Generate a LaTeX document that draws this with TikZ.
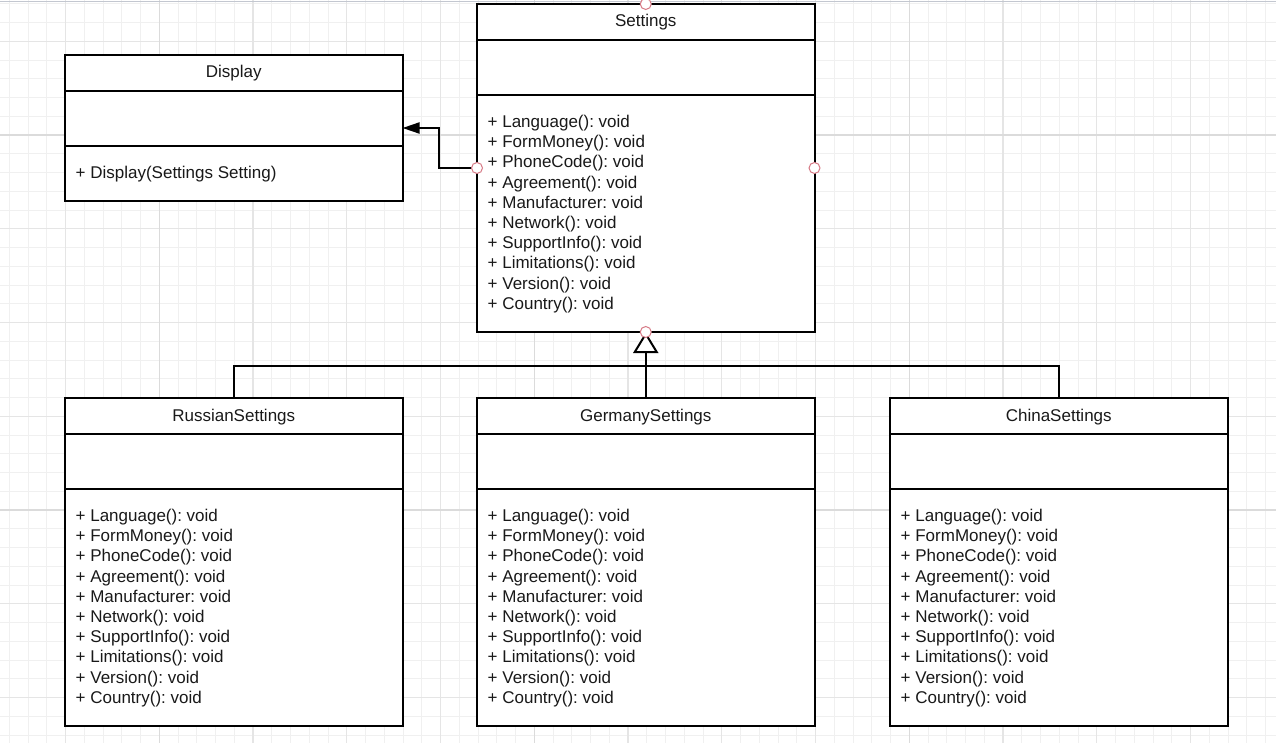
\documentclass[tikz,border=0pt]{standalone}
\usepackage{fontspec}
\setmainfont{Liberation Sans}
\usetikzlibrary{arrows.meta}
\definecolor{pointred}{HTML}{D77A86}
\definecolor{canvasedge}{HTML}{C3C7D0}
\frenchspacing
\newcommand{\methodlist}{Language(): void, FormMoney(): void, PhoneCode(): void, Agreement(): void, Manufacturer: void, Network(): void, SupportInfo(): void, Limitations(): void, Version(): void, Country(): void}

\begin{document}
\begin{tikzpicture}
		[
			x=1pt, y=-1pt,
			% Make a style for the grid lines.
			gridminor/.style={line width=0.8pt, black!6},
			gridmid/.style={line width=1.2pt, black!10},
			gridmajor/.style={line width=1.6pt, black!14},
			% And one for a class box.
			classbox/.style={draw, line width=2pt, fill=white, minimum width=337.5pt, inner sep=0pt, outer sep=0pt, anchor=north west},
			% And one for the texts in a box.
			classtext/.style={inner sep=0pt, black!90, font=\fontsize{17}{20.2}\selectfont},
			% And one for a connection point.
			cpoint/.style={circle, draw=pointred, fill=white, line width=1pt, minimum size=11pt, inner sep=0pt}
		]
			\useasboundingbox (0,0) rectangle (1276,743);
			\fill[white] (0,0) rectangle (1276,743);
			
			% Draw the grid.
			\foreach \k in {0,...,67} \draw[gridminor] ({9.3+18.75*\k},0) -- ++(0,743);
			\foreach \k in {0,...,39} \draw[gridminor] (0,{3.75+18.75*\k}) -- ++(1276,0);
			\foreach \k in {0,...,12} \draw[gridmid] ({65.55+93.75*\k},0) -- ++(0,743);
			\foreach \k in {0,...,7} \draw[gridmid] (0,{41.25+93.75*\k}) -- ++(1276,0);
			\foreach \k in {0,1,2} \draw[gridmajor] ({159.3+375*\k},0) -- ++(0,743);
			\foreach \k in {0,1} \draw[gridmajor] (0,{135+375*\k}) -- ++(1276,0);
			\draw[canvasedge, line width=1.5pt] (0,1.5) -- (1276,1.5);
			
			% Draw the settings classes.
			\foreach \name/\title/\x/\y in {settings/Settings/477/4, russian/RussianSettings/65/398, germany/GermanySettings/477/398, china/ChinaSettings/890/398}
			{
				\node[classbox, minimum height=328pt] (\name) at (\x,\y) {};
				\node[classtext, anchor=base] (\name-title) at (\x+168.75,\y+23) {\title};
				\draw[line width=2pt] ([yshift=-36pt]\name.north west) -- ([yshift=-36pt]\name.north east);
				\draw[line width=2pt] ([yshift=-91pt]\name.north west) -- ([yshift=-91pt]\name.north east);
				\foreach \m [count=\i] in \methodlist
					\node[classtext, anchor=base west] (\name-m\i) at (\x+10.5,{\y+123.5+20.2*(\i-1)}) {+ \m};
			}
			
			% Draw the display class.
			\node[classbox, minimum height=146pt] (display) at (65,55) {};
			\node[classtext, anchor=base] (display-title) at (233.75,78) {Display};
			\draw[line width=2pt] ([yshift=-36pt]display.north west) -- ([yshift=-36pt]display.north east);
			\draw[line width=2pt] ([yshift=-91pt]display.north west) -- ([yshift=-91pt]display.north east);
			\node[classtext, anchor=base west] (display-m1) at (75.5,178.5) {+ Display(Settings Setting)};
			
			% Draw association.
			\draw[line width=2pt, -{Triangle[length=17pt, width=11pt]}] (settings.west) -- ++(-38,0) |- (display.east);
			
			% Draw inheritance.
			\draw[line width=2pt] (russian.north) -- ++(0,-32) -| (china.north);
			\draw[line width=2pt, -{Triangle[open, length=21pt, width=25pt, fill=white]}] (germany.north) -- (settings.south);
			
			% Draw connection points.
			\foreach \a in {north, south, west, east}
				\node[cpoint] (settings-\a) at (settings.\a) {};
		\end{tikzpicture}
\end{document}
